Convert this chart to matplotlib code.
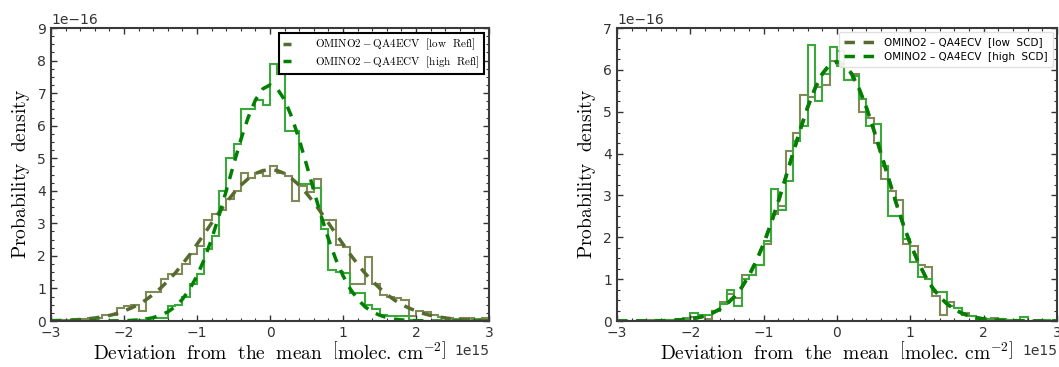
import numpy as np
import matplotlib
matplotlib.use('Agg')
import matplotlib.pyplot as plt
from matplotlib.ticker import MultipleLocator

plt.rcParams['mathtext.fontset'] = 'cm'

# histogram bins: -3 .. 3 (x 1e15), width 0.1
edges = np.round(np.linspace(-3, 3, 61), 2)
fit_x = np.round(np.linspace(-3, 3, 61), 2)

# ---- left panel: reflectance split (density x 1e-16)
low_refl_hist = [
    0.02, 0.02, 0.03, 0.05, 0.05, 0.08, 0.10, 0.18, 0.20, 0.40,
    0.45, 0.48, 0.30, 0.88, 0.90, 1.30, 1.45, 1.45, 1.75, 2.05,
    2.30, 3.10, 3.30, 3.40, 3.75, 4.00, 4.55, 4.40, 4.55, 4.45,
    4.75, 4.55, 4.45, 3.70, 4.15, 3.95, 4.35, 3.10, 3.10, 2.35,
    2.28, 1.15, 1.15, 1.97, 1.15, 0.80, 0.75, 0.72, 0.65, 0.15,
    0.30, 0.28, 0.18, 0.12, 0.10, 0.05, 0.10, 0.08, 0.05, 0.10]
high_refl_hist = [
    0.00, 0.00, 0.00, 0.00, 0.00, 0.00, 0.00, 0.00, 0.00, 0.00,
    0.00, 0.00, 0.02, 0.10, 0.10, 0.10, 0.45, 0.50, 0.75, 1.15,
    1.45, 2.20, 2.60, 4.00, 5.00, 5.45, 6.50, 6.50, 6.80, 6.65,
    7.90, 7.60, 5.85, 5.85, 4.20, 4.20, 4.10, 2.84, 1.56, 1.50,
    1.47, 0.85, 0.85, 0.49, 0.37, 0.18, 0.15, 0.15, 0.15, 0.02,
    0.00, 0.00, 0.00, 0.00, 0.00, 0.00, 0.00, 0.00, 0.00, 0.00]
low_refl_fit = [
    0.01, 0.015, 0.023, 0.033, 0.047, 0.067, 0.093, 0.13, 0.17, 0.23,
    0.31, 0.40, 0.51, 0.65, 0.82, 1.01, 1.23, 1.47, 1.75, 2.04,
    2.36, 2.68, 3.01, 3.33, 3.64, 3.92, 4.17, 4.37, 4.53, 4.62,
    4.65,
    4.62, 4.53, 4.37, 4.17, 3.92, 3.64, 3.33, 3.01, 2.68, 2.36,
    2.04, 1.75, 1.47, 1.23, 1.01, 0.82, 0.65, 0.51, 0.40, 0.31,
    0.23, 0.17, 0.13, 0.093, 0.067, 0.047, 0.033, 0.023, 0.015, 0.01]
high_refl_fit = [
    0.0, 0.0, 0.0, 0.0, 0.0, 0.0, 0.0, 0.001, 0.002, 0.005,
    0.01, 0.02, 0.034, 0.06, 0.105, 0.18, 0.28, 0.44, 0.67, 0.98,
    1.39, 1.90, 2.52, 3.23, 4.00, 4.80, 5.57, 6.25, 6.79, 7.13,
    7.25,
    7.13, 6.79, 6.25, 5.57, 4.80, 4.00, 3.23, 2.52, 1.90, 1.39,
    0.98, 0.67, 0.44, 0.28, 0.18, 0.105, 0.06, 0.034, 0.02, 0.01,
    0.005, 0.002, 0.001, 0.0, 0.0, 0.0, 0.0, 0.0, 0.0, 0.0]

# ---- right panel: slant column split
low_scd_hist = [
    0.00, 0.00, 0.01, 0.01, 0.02, 0.02, 0.02, 0.03, 0.05, 0.08,
    0.10, 0.12, 0.05, 0.25, 0.45, 0.65, 0.55, 1.10, 1.10, 1.35,
    1.85, 2.55, 2.75, 4.05, 4.50, 5.40, 5.35, 5.60, 5.65, 6.20,
    6.45, 5.75, 5.90, 5.00, 4.85, 4.25, 3.40, 3.10, 2.90, 1.85,
    1.80, 1.35, 1.30, 0.60, 0.15, 0.45, 0.30, 0.20, 0.12, 0.08,
    0.06, 0.08, 0.05, 0.02, 0.02, 0.01, 0.01, 0.00, 0.00, 0.00]
high_scd_hist = [
    0.00, 0.00, 0.00, 0.01, 0.01, 0.02, 0.01, 0.02, 0.03, 0.05,
    0.20, 0.15, 0.15, 0.25, 0.40, 0.75, 0.35, 1.00, 1.10, 1.35,
    1.90, 3.15, 2.65, 3.35, 4.30, 4.65, 6.60, 5.25, 5.90, 6.55,
    6.10, 5.75, 5.85, 5.30, 4.65, 4.70, 3.70, 2.50, 2.50, 1.95,
    1.40, 1.05, 1.00, 0.70, 0.70, 0.35, 0.30, 0.15, 0.12, 0.06,
    0.05, 0.03, 0.05, 0.02, 0.02, 0.10, 0.01, 0.00, 0.02, 0.01]
low_scd_fit = [
    0.0, 0.0, 0.0, 0.001, 0.002, 0.003, 0.006, 0.01, 0.018, 0.03,
    0.049, 0.079, 0.12, 0.19, 0.28, 0.41, 0.58, 0.80, 1.08, 1.43,
    1.84, 2.32, 2.85, 3.42, 4.00, 4.57, 5.10, 5.55, 5.90, 6.12,
    6.18,
    6.12, 5.90, 5.55, 5.10, 4.57, 4.00, 3.42, 2.85, 2.32, 1.84,
    1.43, 1.08, 0.80, 0.58, 0.41, 0.28, 0.19, 0.12, 0.079, 0.049,
    0.03, 0.018, 0.01, 0.006, 0.003, 0.002, 0.001, 0.0, 0.0, 0.0]
high_scd_fit = [
    0.0, 0.0, 0.0, 0.001, 0.002, 0.003, 0.006, 0.01, 0.018, 0.03,
    0.049, 0.079, 0.12, 0.19, 0.28, 0.41, 0.58, 0.80, 1.09, 1.44,
    1.85, 2.33, 2.86, 3.43, 4.01, 4.58, 5.11, 5.56, 5.91, 6.13,
    6.20,
    6.13, 5.91, 5.56, 5.11, 4.58, 4.01, 3.43, 2.86, 2.33, 1.85,
    1.44, 1.09, 0.80, 0.58, 0.41, 0.28, 0.19, 0.12, 0.079, 0.049,
    0.03, 0.018, 0.01, 0.006, 0.003, 0.002, 0.001, 0.0, 0.0, 0.0]

X_UNIT = 1e15
Y_UNIT = 1e-16

olive_hist = '#7f8a58'
olive_line = '#556b2f'
green_hist = '#3aa83a'
green_line = '#008000'

fig = plt.figure(figsize=(10.59, 3.67), dpi=100)
ax1 = fig.add_axes([0.0482, 0.1253, 0.4136, 0.7984])
ax2 = fig.add_axes([0.5826, 0.1253, 0.4155, 0.7984])


def draw_panel(ax, low_hist, high_hist, low_fit, high_fit, labels, ymax):
    x_edges = edges * X_UNIT
    xf = fit_x * X_UNIT
    ax.stairs(np.array(low_hist) * Y_UNIT, x_edges, color=olive_hist, lw=1.5)
    ax.stairs(np.array(high_hist) * Y_UNIT, x_edges, color=green_hist, lw=1.5)
    ax.plot(xf, np.array(low_fit) * Y_UNIT, '--', color=olive_line, lw=2.5,
            dashes=(3, 2.5), label=labels[0])
    ax.plot(xf, np.array(high_fit) * Y_UNIT, '--', color=green_line, lw=2.5,
            dashes=(3, 2.5), label=labels[1])
    ax.set_xlim(-3 * X_UNIT, 3 * X_UNIT)
    ax.set_ylim(0, ymax * Y_UNIT)
    ax.xaxis.set_major_locator(MultipleLocator(1 * X_UNIT))
    ax.xaxis.set_minor_locator(MultipleLocator(0.2 * X_UNIT))
    ax.yaxis.set_major_locator(MultipleLocator(1 * Y_UNIT))
    ax.yaxis.set_minor_locator(MultipleLocator(0.25 * Y_UNIT))
    ax.tick_params(which='both', direction='in', top=True, right=True,
                   labelsize=10, colors='#333333')
    ax.tick_params(which='major', length=4, width=1)
    ax.tick_params(which='minor', length=2, width=0.8)
    for sp in ax.spines.values():
        sp.set_color('#3a3a3a')
        sp.set_linewidth(1.5)
    ax.xaxis.get_offset_text().set_fontsize(10)
    ax.yaxis.get_offset_text().set_fontsize(10)
    ax.set_xlabel(r'$\mathrm{Deviation\ \ from\ \ the\ \ mean\ \ '
                  r'\left[molec.\,cm^{-2}\right]}$', fontsize=14, labelpad=1)
    ax.set_ylabel(r'$\mathrm{Probability\ \ density}$', fontsize=14,
                  labelpad=4)


draw_panel(ax1, low_refl_hist, high_refl_hist, low_refl_fit, high_refl_fit,
           [r'$\mathrm{OMINO2-QA4ECV\ \ [low\ \ Refl]}$',
            r'$\mathrm{OMINO2-QA4ECV\ \ [high\ \ Refl]}$'], 9)
draw_panel(ax2, low_scd_hist, high_scd_hist, low_scd_fit, high_scd_fit,
           ['OMINO2 – QA4ECV  [low  SCD]', 'OMINO2 – QA4ECV  [high  SCD]'], 7)

leg1 = ax1.legend(loc='upper right', fontsize=8, handlelength=0.7,
                  handletextpad=2.2, borderpad=0.35, labelspacing=0.2,
                  fancybox=False, framealpha=1, borderaxespad=0.45)
leg1.get_frame().set_edgecolor('black')
leg1.get_frame().set_linewidth(1.5)

leg2 = ax2.legend(loc='upper right', fontsize=7.5, handlelength=2.8,
                  handletextpad=1.0, borderpad=0.5, labelspacing=0.45,
                  framealpha=0.9, borderaxespad=0.4)
leg2.get_frame().set_edgecolor('#dddddd')

fig.savefig('out.png', dpi=100)
